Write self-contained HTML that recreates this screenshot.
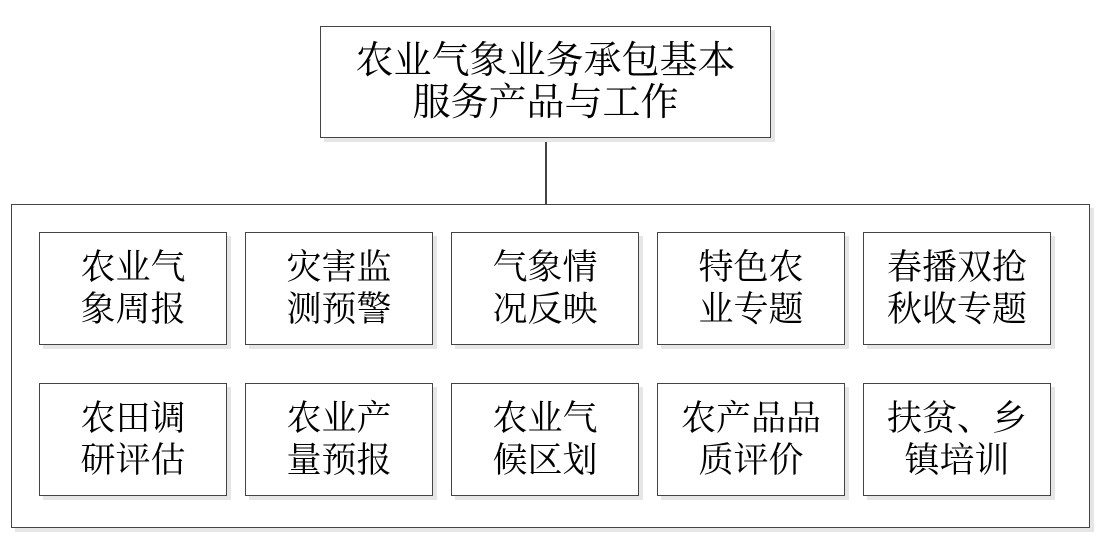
<!DOCTYPE html>
<html><head><meta charset="utf-8"><style>
body{margin:0;width:1099px;height:537px;background:#fff;position:relative;overflow:hidden;font-family:"Liberation Serif","Noto Serif CJK SC",serif;color:#000}
.b{position:absolute;border:1.5px solid #444;box-sizing:border-box;background:#fff;box-shadow:4px 4px 0 #e6e6e6;display:flex;align-items:center;justify-content:center;text-align:center}
.s{width:188px;height:113px;font-size:35px;line-height:42px}
</style></head><body>
<div class="b" style="left:11px;top:204px;width:1079px;height:324px"></div>
<div style="position:absolute;left:545px;top:138px;width:1.5px;height:66px;background:#444"></div>
<div class="b" style="left:320px;top:26px;width:451px;height:112px;font-size:38px;line-height:42px">农业气象业务承包基本<br>服务产品与工作</div>
<div class="b s" style="left:39px;top:232px">农业气<br>象周报</div>
<div class="b s" style="left:245px;top:232px">灾害监<br>测预警</div>
<div class="b s" style="left:451px;top:232px">气象情<br>况反映</div>
<div class="b s" style="left:657px;top:232px">特色农<br>业专题</div>
<div class="b s" style="left:863px;top:232px">春播双抢<br>秋收专题</div>
<div class="b s" style="left:39px;top:383px">农田调<br>研评估</div>
<div class="b s" style="left:245px;top:383px">农业产<br>量预报</div>
<div class="b s" style="left:451px;top:383px">农业气<br>候区划</div>
<div class="b s" style="left:657px;top:383px">农产品品<br>质评价</div>
<div class="b s" style="left:863px;top:383px">扶贫、乡<br>镇培训</div>
</body></html>
